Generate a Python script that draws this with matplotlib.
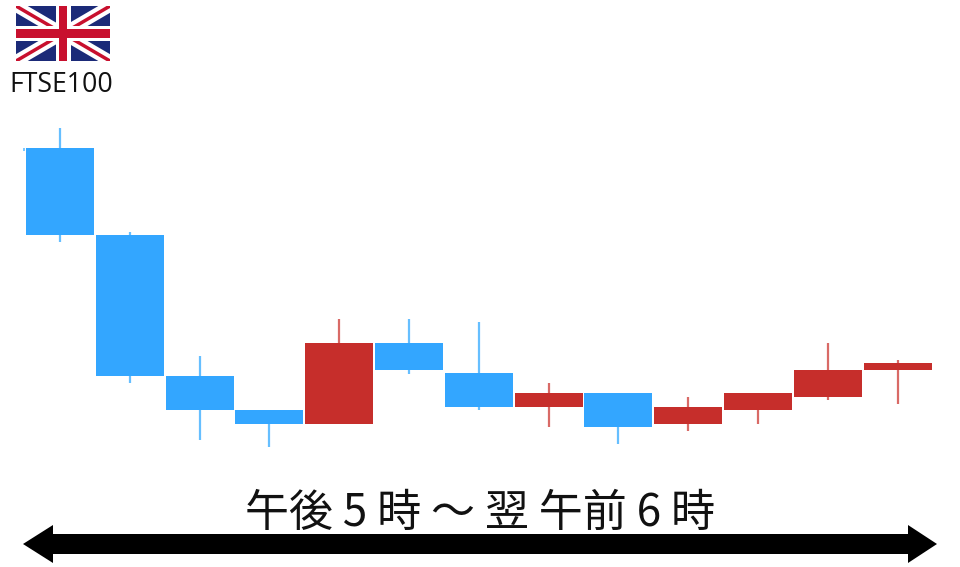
import matplotlib
matplotlib.use("Agg")
import matplotlib.pyplot as plt
from matplotlib.patches import Polygon, Rectangle

# candle readings on the picture's vertical scale (smaller = higher on the chart)
centers = [60, 130, 200, 269, 339, 409, 479, 549, 618, 688, 758, 828, 898]
body_top = [148, 235, 376, 410, 343, 343, 373, 393, 393, 407, 393, 370, 363]
body_bot = [235, 376, 410, 424, 424, 370, 407, 407, 427, 424, 410, 397, 370]
wick_top = [128, 232, 356, 410, 319, 319, 322, 383, 393, 397, 393, 343, 360]
wick_bot = [242, 383, 440, 447, 424, 374, 410, 427, 444, 431, 424, 400, 404]
direction = ["d", "d", "d", "d", "u", "d", "d", "u", "d", "u", "u", "u", "u"]

title = "午後 5 時 ～ 翌 午前 6 時"
index_name = "FTSE100"

BLUE, RED = "#33A6FF", "#C62E2B"
BLUE_W, RED_W = "#66BFFF", "#D96A66"

plt.rcParams["font.family"] = ["Noto Sans CJK JP", "DejaVu Sans"]
fig = plt.figure(figsize=(9.6, 5.67), dpi=100)
ax = fig.add_axes([0, 0, 1, 1])
ax.set_xlim(0, 960)
ax.set_ylim(567, 0)
ax.axis("off")

for x, t, b, wt, wb, d in zip(centers, body_top, body_bot, wick_top, wick_bot, direction):
    col, wcol = (BLUE, BLUE_W) if d == "d" else (RED, RED_W)
    ax.vlines(x, wt, wb, color=wcol, lw=1.6, zorder=2)
    ax.add_patch(Rectangle((x - 34, t), 67.5, b - t, fc=col, ec="none", zorder=3))
ax.vlines(24, 148, 151, color=BLUE_W, lw=1.2)

# flag
L, R, T, B = 16, 110, 6, 61
clip = Rectangle((L, T), R - L, B - T, transform=ax.transData)
ax.add_patch(Rectangle((L, T), R - L, B - T, fc="#1B2A78", ec="none", zorder=4))
for xs, ys in (((L, R), (T, B)), ((L, R), (B, T))):
    a, = ax.plot(xs, ys, color="white", lw=8.5, solid_capstyle="butt", zorder=5)
    a.set_clip_path(clip)
    a2, = ax.plot(xs, ys, color="#C8102E", lw=2.5, solid_capstyle="butt", zorder=6)
    a2.set_clip_path(clip)
ax.add_patch(Rectangle((L, 26), R - L, 15, fc="white", ec="none", zorder=7))
ax.add_patch(Rectangle((56, T), 15, B - T, fc="white", ec="none", zorder=7))
ax.add_patch(Rectangle((L, 29), R - L, 9, fc="#C8102E", ec="none", zorder=8))
ax.add_patch(Rectangle((59, T), 8, B - T, fc="#C8102E", ec="none", zorder=8))

ax.text(61, 85.5, index_name, fontsize=19.2, ha="center", va="center", color="#111111",
        family=["Open Sans", "DejaVu Sans"])
ax.text(480, 513, title, fontsize=31.7, ha="center", va="center", color="#111111")

# double arrow
ax.add_patch(Polygon([(23, 544), (53, 525), (53, 534), (908, 534), (908, 525), (937, 544),
                      (908, 563), (908, 554), (53, 554), (53, 563)], fc="black", ec="none"))

fig.savefig("out.png", dpi=100)
